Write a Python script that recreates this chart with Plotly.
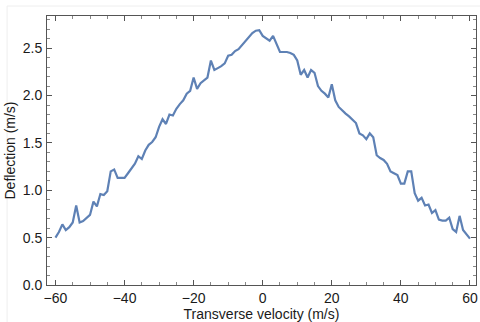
import plotly.graph_objects as go

velocity = list(range(-60, 61))
deflection = [
    0.50, 0.56, 0.64, 0.58, 0.61, 0.66, 0.84, 0.66, 0.675, 0.71,   # -60..-51
    0.74, 0.88, 0.83, 0.96, 0.95, 0.99, 1.20, 1.22, 1.13, 1.13,    # -50..-41
    1.13, 1.18, 1.23, 1.28, 1.36, 1.33, 1.42, 1.48, 1.51, 1.56,    # -40..-31
    1.67, 1.75, 1.70, 1.80, 1.79, 1.86, 1.91, 1.95, 2.02, 2.05,    # -30..-21
    2.19, 2.07, 2.13, 2.16, 2.19, 2.37, 2.27, 2.29, 2.31, 2.34,    # -20..-11
    2.42, 2.43, 2.47, 2.49, 2.53, 2.57, 2.61, 2.66, 2.685, 2.69,   # -10..-1
    2.63,                                                          # 0
    2.60, 2.58, 2.63, 2.54, 2.46, 2.46, 2.46, 2.45, 2.43, 2.37,    # 1..10
    2.22, 2.27, 2.19, 2.27, 2.24, 2.10, 2.05, 2.02, 1.98, 2.12,    # 11..20
    1.95, 1.88, 1.84, 1.81, 1.78, 1.74, 1.71, 1.60, 1.58, 1.54,    # 21..30
    1.60, 1.56, 1.37, 1.34, 1.32, 1.28, 1.20, 1.18, 1.16, 1.07,    # 31..40
    1.07, 1.20, 1.20, 0.97, 0.89, 0.92, 0.84, 0.85, 0.76, 0.79,    # 41..50
    0.69, 0.68, 0.68, 0.71, 0.59, 0.56, 0.73, 0.58, 0.54, 0.49,    # 51..60
]

x_ticks = [-60, -40, -20, 0, 20, 40, 60]
y_ticks = [0.0, 0.5, 1.0, 1.5, 2.0, 2.5]

FONT = "Liberation Sans, Arial, sans-serif"
FRAME = "#555555"
TEXT = "#1a1a1a"

fig = go.Figure()
fig.add_trace(go.Scatter(
    x=velocity, y=deflection, mode="lines",
    line=dict(color="#5E81B5", width=2.2),
    showlegend=False,
))

axis_common = dict(
    showgrid=False, zeroline=False, showline=True, linecolor=FRAME, linewidth=1,
    mirror="ticks", ticks="inside", ticklen=5, tickcolor=FRAME, tickwidth=1,
    tickfont=dict(family=FONT, size=14, color=TEXT),
)

fig.update_layout(
    width=480, height=322,
    margin=dict(l=47, r=2, t=16, b=37),
    paper_bgcolor="white", plot_bgcolor="white",
    font=dict(family=FONT, size=14, color=TEXT),
    xaxis=dict(
        range=[-62.45, 61.75], tickvals=x_ticks,
        minor=dict(dtick=5, tick0=0, ticks="inside", ticklen=3, tickcolor="#888888"),
        title=dict(text="Transverse velocity (m/s)", standoff=1,
                   font=dict(family=FONT, size=14, color=TEXT)),
        ticklabelstandoff=0,
        **axis_common,
    ),
    yaxis=dict(
        range=[0, 2.84], tickvals=y_ticks, tickformat=".1f",
        minor=dict(dtick=0.1, tick0=0, ticks="inside", ticklen=3, tickcolor="#888888"),
        title=dict(text="Deflection (m/s)", standoff=3,
                   font=dict(family=FONT, size=14, color=TEXT)),
        ticklabelstandoff=1,
        **axis_common,
    ),
    shapes=[
        dict(type="line", xref="paper", yref="paper", x0=-0.093, x1=1.01,
             y0=1.0 + 10 / 269, y1=1.0 + 10 / 269, line=dict(color="#eeeeee", width=1)),
        dict(type="line", xref="paper", yref="paper", x0=-0.093, x1=-0.093,
             y0=-37 / 269, y1=1.0 + 10 / 269, line=dict(color="#eeeeee", width=1)),
    ],
)

fig.write_html("out.html")
